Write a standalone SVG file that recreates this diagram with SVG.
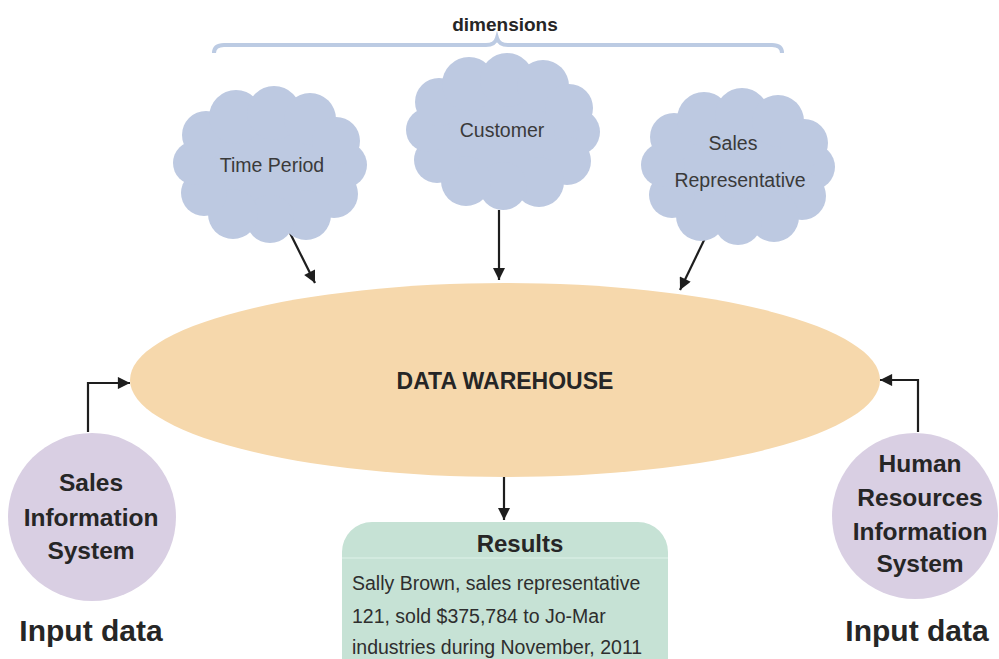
<svg xmlns="http://www.w3.org/2000/svg" width="999" height="659" viewBox="0 0 999 659">
<style>
.cloud{fill:#bdc9e1}
.ct{font-family:"Liberation Sans",Arial,sans-serif;font-size:19.5px;fill:#3a3a3a;text-anchor:middle}
.bt{font-family:"Liberation Sans",Arial,sans-serif;font-weight:bold;fill:#262626;text-anchor:middle}
.body{font-family:"Liberation Sans",Arial,sans-serif;font-size:19.5px;fill:#2e2e2e}
.conn{fill:none;stroke:#1e1e1e;stroke-width:2.2}
</style>
<defs>
<marker id="ah" viewBox="0 0 10 10" refX="10" refY="5" markerWidth="6" markerHeight="5.5" orient="auto">
<path d="M0,0 L10,5 L0,10 z" fill="#1e1e1e"/>
</marker>
<g id="cloudShape">
<ellipse cx="0" cy="0" rx="88" ry="64"/>
<circle cx="74" cy="0" r="23"/>
<circle cx="64" cy="29" r="24"/>
<circle cx="36" cy="50" r="25"/>
<circle cx="0" cy="54" r="24"/>
<circle cx="-37" cy="49" r="25"/>
<circle cx="-66" cy="28" r="23"/>
<circle cx="-75" cy="-2" r="22"/>
<circle cx="-64" cy="-30" r="24"/>
<circle cx="-34" cy="-48" r="27"/>
<circle cx="4" cy="-52" r="27"/>
<circle cx="40" cy="-46" r="26"/>
<circle cx="66" cy="-24" r="24"/>
</g>
</defs>
<rect width="999" height="659" fill="#ffffff"/>

<g id="dimensions">
<path d="M214,53 Q214,45 224,45 L486,45 Q495,45 497,38 Q499,45 508,45 L772,45 Q782,45 782,53" fill="none" stroke="#bccbe3" stroke-width="4"/>
<text class="bt" x="505" y="31" style="font-size:19px">dimensions</text>
</g>

<g id="connectors">
<path class="conn" d="M290,233 L315,283" marker-end="url(#ah)"/>
<path class="conn" d="M499,210 L499,280" marker-end="url(#ah)"/>
<path class="conn" d="M708,232 L680,290" marker-end="url(#ah)"/>
<path class="conn" d="M88,432 L88,383 L130,383" marker-end="url(#ah)"/>
<path class="conn" d="M918,432 L918,380 L880,380" marker-end="url(#ah)"/>
<path class="conn" d="M504,477 L504,520" marker-end="url(#ah)"/>
</g>

<g id="time-period">
<use href="#cloudShape" class="cloud" transform="translate(270,165)"/>
<text class="ct" x="272" y="172">Time Period</text>
</g>

<g id="customer">
<use href="#cloudShape" class="cloud" transform="translate(503,132)"/>
<text class="ct" x="502" y="137">Customer</text>
</g>

<g id="sales-representative">
<use href="#cloudShape" class="cloud" transform="translate(738,167)"/>
<text class="ct" x="733" y="150">Sales</text>
<text class="ct" x="740" y="187">Representative</text>
</g>

<g id="data-warehouse">
<ellipse cx="505" cy="380" rx="375" ry="97" fill="#f6d8ac"/>
<text class="bt" x="505" y="389" style="font-size:23px">DATA WAREHOUSE</text>
</g>

<g id="sales-information-system">
<circle cx="92" cy="517" r="84" fill="#d9cfe3"/>
<text class="bt" x="91" y="491" style="font-size:24.5px">Sales</text>
<text class="bt" x="91" y="526" style="font-size:24.5px">Information</text>
<text class="bt" x="91" y="559" style="font-size:24.5px">System</text>
<text class="bt" x="91" y="641" style="font-size:30px">Input data</text>
</g>

<g id="hr-information-system">
<circle cx="915" cy="516" r="83" fill="#d9cfe3"/>
<text class="bt" x="920" y="472" style="font-size:24.5px">Human</text>
<text class="bt" x="920" y="506" style="font-size:24.5px">Resources</text>
<text class="bt" x="920" y="540" style="font-size:24.5px">Information</text>
<text class="bt" x="920" y="572" style="font-size:24.5px">System</text>
<text class="bt" x="917" y="641" style="font-size:30px">Input data</text>
</g>

<g id="results">
<rect x="342" y="522" width="326" height="170" rx="30" fill="#c6e2d5"/>
<line x1="342" y1="558" x2="668" y2="558" stroke="#d6ece2" stroke-width="1.5"/>
<text class="bt" x="520" y="552" style="font-size:24px">Results</text>
<text class="body" x="352" y="590">Sally Brown, sales representative</text>
<text class="body" x="352" y="623">121, sold $375,784 to Jo-Mar</text>
<text class="body" x="352" y="654">industries during November, 2011</text>
</g>
</svg>
